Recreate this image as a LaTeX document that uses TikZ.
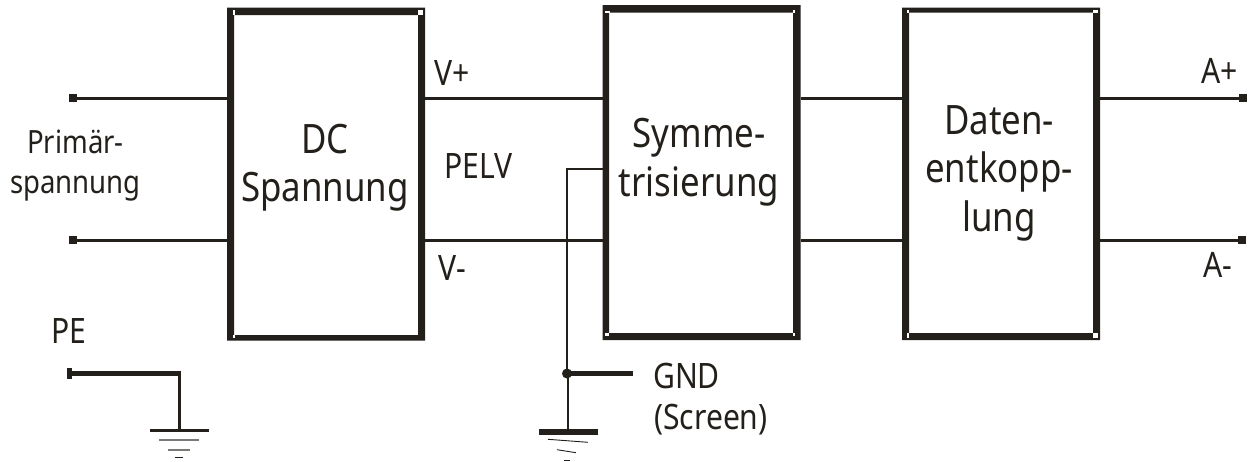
\documentclass[tikz,border=0pt]{standalone}
\usepackage{fontspec}
\setmainfont{Noto Sans}
\newfontfamily\tahlike[FakeStretch=.86]{Noto Sans}
\definecolor{ink}{HTML}{231F1A}
\tikzset{
  wire/.style={draw=ink,line width=3pt},
  thin wire/.style={draw=ink,line width=2pt},
  heavy wire/.style={draw=ink,line width=5.2pt},
  earth/.style={draw=ink,line width=1pt},
  earth grey/.style={draw=ink!60,line width=1.6pt},
  label/.style={text=ink,font=\tahlike\fontsize{35}{40}\selectfont,inner sep=0pt},
  primlabel/.style={text=ink,font=\tahlike\fontsize{32}{40}\selectfont,inner sep=0pt,align=center},
  biglabel/.style={text=ink,font=\tahlike\fontsize{40.5}{48.5}\selectfont,inner sep=0pt,align=center},
  term/.style={fill=ink,inner sep=0pt,minimum size=7.5pt,draw=none},
  speck/.style={fill=white,draw=none}
}
\newcommand{\blk}[9]{% name, outer l t r b, inner l t r b
  \fill[ink,even odd rule] (#2,#3) rectangle (#4,#5) (#6,#7) rectangle (#8,#9);
  \coordinate (#1-w) at (#2,98);
  \coordinate (#1-sw) at (#2,240);
  \coordinate (#1-e) at (#4,98);
  \coordinate (#1-se) at (#4,240);
}
\begin{document}
\begin{tikzpicture}[x=1pt,y=-1pt]
\useasboundingbox (0,0) rectangle (1248,461);
\blk{a}{227}{7.5}{425}{340.5}{234}{15}{418}{335}
\blk{b}{602.5}{5}{800.5}{340}{609}{12.7}{793}{333}
\blk{c}{902}{7.5}{1100}{340}{909}{12.7}{1093}{333}
% corner specks
\fill[speck] (232.5,10) rectangle (234.5,15);
\fill[speck] (418,10) rectangle (423,15);
\fill[speck] (232.5,335) rectangle (234.5,337.5);
\fill[speck] (604.5,10.5) rectangle (609.5,12.7);
\fill[speck] (793,10) rectangle (795,12.7);
\fill[speck] (604.5,333) rectangle (609,335.5);
\fill[speck] (793,333) rectangle (795,335.5);
\fill[speck] (906.5,10) rectangle (909,12.7);
\fill[speck] (1093,10) rectangle (1097.5,12.7);
\fill[speck] (906.5,333) rectangle (909,337.5);
\fill[speck] (1093,333) rectangle (1097.5,337.5);
% terminals
\node[term] (t1) at (73,98) {};
\node[term] (t2) at (73,240) {};
\node[term] (t3) at (1243,98) {};
\node[term] (t4) at (1242,240) {};
% signal wires
\draw[wire] (t1.center) -- (a-w);
\draw[wire] (t2.center) -- (a-sw);
\draw[wire] (a-e) -- (b-w);
\draw[wire] (a-se) -- (b-sw);
\draw[wire] (b-e) -- (c-w);
\draw[wire] (b-se) -- (c-sw);
\draw[wire] (c-e) -- (t3.center);
\draw[wire] (c-se) -- (t4.center);
% PE
\node[term,minimum width=5pt,minimum height=10.5pt] (pe) at (69.5,373.5) {};
\coordinate (pec) at (179.5,373.5);
\coordinate (peg) at (179.5,430);
\draw[heavy wire] (pe.center) -- (pec);
\draw[wire] (179.5,371) -- (peg);
\draw[draw=ink,line width=3pt] (150,430.5) -- (209,430.5);
\draw[earth grey] (159,440) -- (199,440);
\draw[earth grey] (168,450) -- (190,450);
\draw[earth] (175,457.5) -- (183,457.5);
% GND
\coordinate (gg) at (568,432);
\node[circle,fill=ink,inner sep=0pt,minimum size=10pt] (j) at (567,373.5) {};
\draw[thin wire] (603,169) -- (567,169) -- (j.center);
\draw[wire,line width=2.6pt] (568,373.5) -- (gg);
\coordinate (gt) at (632.7,373.5);
\draw[heavy wire] (j.center) -- (gt);
\fill[ink] (539,429) rectangle (598,435);
\draw[earth,line width=.9pt] (548,439.3) -- (588,442.3);
\draw[earth,line width=.9pt] (557,449.7) -- (576,452.7);
\draw[earth] (564,460) -- (570,460);
% labels
\node[label,anchor=base west] (vp) at (434,85) {V+};
\node[label,anchor=base west] (vm) at (438,280) {V-};
\node[label,anchor=base west] (pelv) at (444,178) {PELV};
\node[label,anchor=base west] (pe1) at (51,343) {PE};
\node[label,anchor=base west] (gnd) at (653,388) {GND};
\node[label,anchor=base west] (scr) at (654,429) {(Screen)};
\node[label,anchor=base east] (ap) at (1238,83) {A+};
\node[label,anchor=base west] (am) at (1203,277) {A-};
\node[primlabel] (prim) at (75.5,166) {Primär-\\spannung};
\node[biglabel] (l1) at (325,167.5) {DC\\Spannung};
\node[biglabel] (l2) at (699,162) {Symme-\\trisierung};
\node[biglabel] (l3) at (999,173) {Daten-\\entkopp-\\lung};
\end{tikzpicture}
\end{document}
